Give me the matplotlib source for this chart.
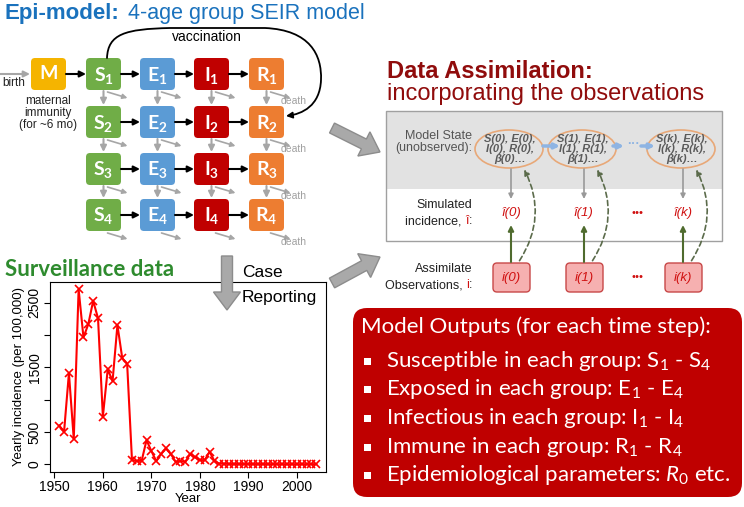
import numpy as np
import matplotlib
matplotlib.use("Agg")
import matplotlib.pyplot as plt
import matplotlib.patches as mpatches
from matplotlib.path import Path

plt.rcParams['font.family'] = ['Liberation Sans', 'DejaVu Sans']
plt.rcParams['mathtext.fontset'] = 'custom'
plt.rcParams['mathtext.rm'] = 'Lato'
plt.rcParams['mathtext.it'] = 'Lato:italic'
plt.rcParams['mathtext.bf'] = 'Lato:bold'

# surveillance data (yearly incidence per 100,000)
years = np.arange(1951, 2005)
incidence = [600, 505, 1410, 390, 2710, 1965, 2170, 2530, 2260, 740,
             1470, 1290, 2155, 1640, 1560, 65, 50, 55, 375, 205,
             50, 160, 245, 160, 40, 50, 40, 160, 110, 65,
             65, 195, 50, 10, 8, 6, 5, 5, 4, 5,
             4, 3, 4, 3, 3, 2, 3, 2, 3, 2,
             3, 2, 3, 2]

# SEIR compartments
compartments = ['S', 'E', 'I', 'R']
comp_colors = ['#70ad47', '#5b9bd5', '#c00000', '#ed7d31']
age_groups = ['1', '2', '3', '4']

# data assimilation steps
steps = ['0', '1', 'k']

outputs_header = 'Model Outputs (for each time step):'
outputs = ['Susceptible in each group: $\\mathregular{S_1}$ - $\\mathregular{S_4}$',
           'Exposed in each group: $\\mathregular{E_1}$ - $\\mathregular{E_4}$',
           'Infectious in each group: $\\mathregular{I_1}$ - $\\mathregular{I_4}$',
           'Immune in each group: $\\mathregular{R_1}$ - $\\mathregular{R_4}$',
           'Epidemiological parameters: $\\mathit{R_0}$ etc.']

fig = plt.figure(figsize=(7.44, 5.07), dpi=100)
ax = fig.add_axes([0, 0, 1, 1])
ax.set_xlim(0, 744)
ax.set_ylim(507, 0)
ax.axis('off')
ax.set_zorder(3)
renderer = fig.canvas.get_renderer()

GRAY = '#a6a6a6'
RED_TXT = '#d01010'

def arrow(x0, y0, x1, y1, color='black', lw=1.5, ms=10, ls='-'):
    ax.annotate('', xy=(x1, y1), xytext=(x0, y0),
                arrowprops=dict(arrowstyle='-|>', color=color, lw=lw, ls=ls,
                                mutation_scale=ms, shrinkA=0, shrinkB=0))

def rbox(x, y, w, h, fc, ec='none', r=4, lw=1, z=2):
    ax.add_patch(mpatches.FancyBboxPatch((x + r, y + r), w - 2 * r, h - 2 * r,
                                         boxstyle='round,pad=%g' % r,
                                         fc=fc, ec=ec, lw=lw, zorder=z))

def width(t):
    return t.get_window_extent(renderer).width

def label_with_red(x, y, line1, line2, red, size):
    # right aligned two-line label whose second line ends with a red symbol + colon
    ax.text(x, y - 8, line1, color='#222222', fontsize=size, ha='right', va='center')
    t = ax.text(x, y + 8, ':', color='#222222', fontsize=size, ha='right', va='center')
    x -= width(t)
    t = ax.text(x, y + 8, red, color=RED_TXT, fontsize=size, ha='right', va='center')
    x -= width(t)
    ax.text(x, y + 8, line2, color='#222222', fontsize=size, ha='right', va='center')

# ---- Epi-model title
t = ax.text(5, 19, 'Epi-model:', color='#1a72bd', fontsize=16, fontweight='bold', va='baseline')
ax.text(5 + width(t) + 8, 19, '4-age group SEIR model', color='#1a72bd', fontsize=15.5,
        va='baseline')

# ---- SEIR boxes
col_x = [86, 140, 194, 249]
row_y = [58, 106, 153, 199]
bw, bh = 35, 32
rbox(31, row_y[0], bw, bh, '#f5b400')
ax.text(31 + bw / 2, row_y[0] + bh / 2, '$\\mathbf{M}$', color='white', fontsize=14,
        ha='center', va='center', zorder=3)
for i, g in enumerate(age_groups):
    y = row_y[i]
    for j, c in enumerate(compartments):
        x = col_x[j]
        rbox(x, y, bw, bh, comp_colors[j])
        ax.text(x + bw / 2, y + bh / 2 + 1, '$\\mathbf{%s_%s}$' % (c, g), color='white',
                fontsize=14, ha='center', va='center', zorder=3)
        if j < 3:
            arrow(x + bw, y + bh / 2, col_x[j + 1], y + bh / 2, ms=9)
        if i < 3:
            arrow(x + bw / 2, y + bh + 1, x + bw / 2, row_y[i + 1] - 1, color=GRAY, ms=9)
        arrow(x + bw / 2 + 4, y + bh + 2, x + bw / 2 + 24, y + bh + 8, color=GRAY, lw=1.2, ms=7)
    ax.text(281, y + bh + 11, 'death', color='#a0a0a0', fontsize=7.5, va='center')
arrow(31 + bw, row_y[0] + bh / 2, col_x[0], row_y[0] + bh / 2, ms=9)
arrow(0, row_y[0] + 16, 30, row_y[0] + 16, color=GRAY, ms=9)
ax.text(2, 83, 'birth', fontsize=8.5, va='center', color='#222222')
ax.text(48, 113, 'maternal\nimmunity\n(for ~6 mo)', fontsize=8.5, ha='center', va='center',
        linespacing=1.05, color='#222222')

# vaccination loop
vpath = Path([(107, 58), (108, 34), (125, 29), (170, 28), (265, 28),
              (310, 30), (322, 55), (321, 80), (320, 106), (302, 114), (286, 116)],
             [Path.MOVETO, Path.CURVE4, Path.CURVE4, Path.CURVE4, Path.LINETO,
              Path.CURVE4, Path.CURVE4, Path.CURVE4, Path.CURVE4, Path.CURVE4, Path.CURVE4])
ax.add_patch(mpatches.FancyArrowPatch(path=vpath, arrowstyle='-|>', mutation_scale=9,
                                      color='black', lw=1.3, zorder=4))
ax.text(207, 37, 'vaccination', fontsize=10, ha='center', va='center')

# ---- block arrows
for (x0, y0, x1, y1) in [(332, 128, 380, 152), (332, 283, 380, 257), (227, 256, 227, 310)]:
    ax.add_patch(mpatches.FancyArrow(x0, y0, x1 - x0, y1 - y0, width=11, head_width=27,
                                     head_length=18, length_includes_head=True,
                                     fc='#a9a9a9', ec='#8c8c8c', lw=1, zorder=3))
ax.text(242, 277, 'Case', fontsize=12.5, va='baseline')
ax.text(242, 302, 'Reporting', fontsize=12.5, va='baseline')

# ---- Data assimilation
DR = '#900c0c'
ax.text(387, 78, 'Data Assimilation:', color=DR, fontsize=17, fontweight='bold', va='baseline')
ax.text(387, 100, 'incorporating the observations', color=DR, fontsize=17, va='baseline')

ax.add_patch(mpatches.Rectangle((386, 111), 336, 78, fc='#e2e2e2', ec='none', zorder=1))
ax.add_patch(mpatches.Rectangle((386, 111), 336, 130, fc='none', ec='#a0a0a0', lw=1, zorder=2))

ax.text(472, 142, 'Model State\n(unobserved):', color='#555555', fontsize=9, ha='right',
        va='center', linespacing=1.1)
label_with_red(472, 213, 'Simulated', 'incidence, ', 'î', 9)
label_with_red(472, 277, 'Assimilate', 'Observations, ', 'i', 9)

step_x = [511, 584, 683]
for sx, k in zip(step_x, steps):
    ax.add_patch(mpatches.Ellipse((sx - 2, 149), 68, 38, fc='none', ec='#e8a878', lw=1.2, zorder=3))
    ax.text(sx - 1, 149, 'S(%s), E(%s),\nI(%s), R(%s),\nβ(%s)…' % (k, k, k, k, k),
            color='#5a5a5a', fontsize=8, fontweight='bold', style='italic', ha='center',
            va='center', linespacing=0.95, zorder=4)
    arrow(sx, 169, sx, 199, color='#999999', lw=1.2, ms=7)
    ax.text(sx, 213, 'î(%s)' % k, color=RED_TXT, fontsize=9.5, style='italic', ha='center',
            va='center')
    rbox(sx - 18, 263, 37, 29, '#f6b0b0', ec='#c84848', r=4, lw=1)
    ax.text(sx, 277.5, 'i(%s)' % k, color=RED_TXT, fontsize=9.5, style='italic', ha='center',
            va='center', zorder=4)
    arrow(sx, 262, sx, 225, color='#4f6b2e', lw=1.5, ms=8)
    ax.add_patch(mpatches.FancyArrowPatch((sx + 7, 263), (sx + 12, 167),
                                          connectionstyle='arc3,rad=0.3', arrowstyle='-|>',
                                          mutation_scale=8, color='#5b6b4b', lw=1.2,
                                          ls=(0, (3, 2)), zorder=4))
for y in (213, 277):
    ax.text(637, y, '•••', color=RED_TXT, fontsize=8, ha='center', va='center')
arrow(543, 146, 560, 146, color='#8eb4e3', lw=2.5, ms=7)
arrow(613, 146, 624, 146, color='#8eb4e3', lw=2.5, ms=7)
ax.text(633, 144, '···', color='#8eb4e3', fontsize=9, fontweight='bold', ha='center', va='center')
arrow(641, 146, 655, 146, color='#8eb4e3', lw=2.5, ms=7)

# ---- Model outputs box
rbox(353, 308, 389, 189, '#bf0000', r=14)
ax.text(361, 327, outputs_header, color='white', fontsize=16, va='center', family='Lato')
for k, line in enumerate(outputs):
    yy = [361, 389, 418, 447, 475][k]
    ax.add_patch(mpatches.Rectangle((364, yy - 3.5), 7, 7, fc='white', ec='none', zorder=3))
    ax.text(386, yy, line, color='white', fontsize=16, va='center', family='Lato', zorder=3)

# ---- Surveillance data
ax.text(5, 276, 'Surveillance data', color='#2e8b2e', fontsize=16, fontweight='bold',
        va='baseline', family='Lato')

cax = fig.add_axes([50 / 744, (507 - 472) / 507, 276 / 744, 190 / 507])
cax.plot(years, incidence, color='#ff0000', lw=1.5, marker='x', ms=6, mew=1.2)
cax.set_xlim(1949.1, 2006.0)
cax.set_ylim(-119, 2822)
cax.set_xticks([1950, 1960, 1970, 1980, 1990, 2000])
cax.set_yticks([0, 500, 1000, 1500, 2000, 2500])
cax.set_yticklabels(['0', '500', '', '1500', '', '2500'], rotation=90, va='center')
cax.tick_params(labelsize=10, direction='out', length=4, width=0.8, pad=2)
for s in cax.spines.values():
    s.set_linewidth(0.8)
cax.set_xlabel('Year', fontsize=9.5, labelpad=-1)
cax.set_ylabel('Yearly incidence (per 100,000)', fontsize=9.5, labelpad=2)

fig.savefig('out.png', dpi=100)
